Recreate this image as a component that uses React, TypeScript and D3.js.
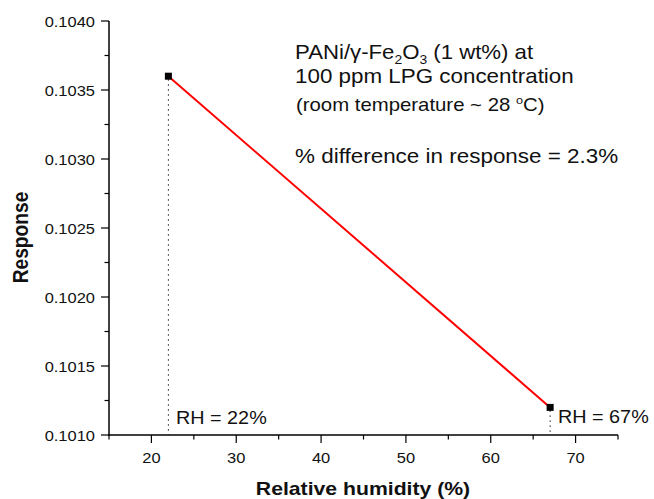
import React from "react";
import * as d3 from "d3";

const humidity = [22, 67];
const response = [0.1036, 0.1012];
const pointLabels = ["RH = 22%", "RH = 67%"];
const xTicks = [20, 30, 40, 50, 60, 70];
const yTicks = [0.101, 0.1015, 0.102, 0.1025, 0.103, 0.1035, 0.104];

const W = 654, H = 499;
const M = { left: 109, right: 618, top: 21, bottom: 435 };
const FONT = "Liberation Sans, Arial, sans-serif";

function T(props: { x: number; y: number; sx?: number; size: number; anchor?: string; bold?: boolean; children: React.ReactNode }) {
  const { x, y, sx = 1.1, size, anchor = "start", bold = false, children } = props;
  return (
    <text transform={`translate(${x},${y}) scale(${sx},1)`} fontSize={size} textAnchor={anchor} fontWeight={bold ? "bold" : "normal"} fill="#111">
      {children}
    </text>
  );
}

export default function App() {
  const x = d3.scaleLinear().domain([15, 75]).range([M.left, M.right]);
  const y = d3.scaleLinear().domain([0.101, 0.104]).range([M.bottom, M.top]);
  const xMinor = d3.range(15, 76, 5);
  const yMinor = d3.range(0, 13).map((i) => 0.101 + i * 0.00025);
  const line = d3.line<number>().x((_, i) => x(humidity[i])).y((d) => y(d));

  return (
    <svg width={W} height={H} style={{ position: "absolute", left: 0, top: 0, background: "#fff" }} fontFamily={FONT}>
      {/* axes */}
      <line x1={M.left} x2={M.left} y1={M.top} y2={M.bottom + 0.7} stroke="#000" strokeWidth={1.5} />
      <line x1={M.left - 0.7} x2={M.right} y1={M.bottom} y2={M.bottom} stroke="#000" strokeWidth={1.5} />
      {yMinor.map((v, i) => (
        <line key={"ym" + i} x1={M.left - (i % 2 === 0 ? 8 : 4.5)} x2={M.left} y1={y(v)} y2={y(v)} stroke="#000" strokeWidth={1.2} />
      ))}
      {yTicks.map((v) => (
        <T key={"yt" + v} x={M.left - 14} y={y(v) + 5.5} size={15.4} sx={1.07} anchor="end">
          {v.toFixed(4)}
        </T>
      ))}
      {xMinor.map((v) => (
        <line key={"xm" + v} x1={x(v)} x2={x(v)} y1={M.bottom} y2={M.bottom + (v % 10 === 0 ? 8 : 4.5)} stroke="#000" strokeWidth={1.2} />
      ))}
      {xTicks.map((v) => (
        <T key={"xt" + v} x={x(v)} y={463} size={15.4} sx={1.07} anchor="middle">
          {v}
        </T>
      ))}
      <T x={363} y={495} size={18.6} sx={1.14} anchor="middle" bold>
        Relative humidity (%)
      </T>
      <text transform={`translate(27.5,237.5) rotate(-90) scale(1,1.14)`} textAnchor="middle" fontSize={19.2} fontWeight="bold" fill="#111">
        Response
      </text>

      {/* drop lines */}
      {humidity.map((h, i) => (
        <line key={"dl" + i} x1={x(h)} x2={x(h)} y1={y(response[i]) + 3} y2={M.bottom} stroke="#222" strokeWidth={1} strokeDasharray="1.5,3.5" />
      ))}
      <path d={line(response) || ""} fill="none" stroke="#ff0000" strokeWidth={2} />
      {humidity.map((h, i) => (
        <rect key={"pt" + i} x={x(h) - 3.5} y={y(response[i]) - 3.5} width={7} height={7} fill="#000" />
      ))}
      <T x={176} y={424} size={18} sx={1.1}>{pointLabels[0]}</T>
      <T x={558} y={423} size={18} sx={1.1}>{pointLabels[1]}</T>

      {/* annotations */}
      <T x={295} y={59} size={20} sx={1.11}>
        PANi/γ-Fe<tspan dy={5} fontSize={12.5}>2</tspan><tspan dy={-5}>O</tspan><tspan dy={5} fontSize={12.5}>3</tspan><tspan dy={-5}> (1 wt%) at</tspan>
      </T>
      <T x={295} y={83} size={20} sx={1.12}>100 ppm LPG concentration</T>
      <T x={296} y={111} size={17.7} sx={1.15}>
        (room temperature ~ 28 <tspan dy={-7} fontSize={11}>o</tspan><tspan dy={7}>C)</tspan>
      </T>
      <T x={295} y={163} size={20.5} sx={1.095}>% difference in response = 2.3%</T>
    </svg>
  );
}
